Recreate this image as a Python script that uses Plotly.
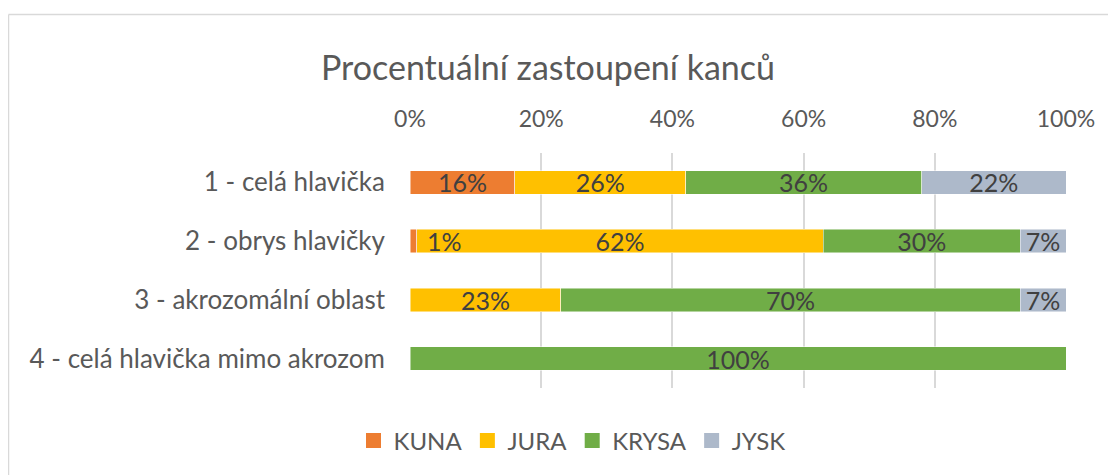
import plotly.graph_objects as go

categories = ["1 - celá hlavička", "2 - obrys hlavičky", "3 - akrozomální oblast", "4 - celá hlavička mimo akrozom"]
series_names = ["KUNA", "JURA", "KRYSA", "JYSK"]
kuna = [16, 1, 0, 0]
jura = [26, 62, 23, 0]
krysa = [36, 30, 70, 100]
jysk = [22, 7, 7, 0]
colors = ["#ED7D31", "#FFC000", "#70AD47", "#ADB9CA"]
tick_vals = [0, 20, 40, 60, 80, 100]
tick_text = ["0%", "20%", "40%", "60%", "80%", "100%"]

FONT = "Lato"
OFF = 8  # page body margin
W, H = 1116 - OFF, 475 - OFF
ML, MR, MT, MB = 410 - OFF, 50, 153 - OFF, 87
pw = W - ML - MR
ph = H - MT - MB

fig = go.Figure()
for name, vals, col in zip(series_names, [kuna, jura, krysa, jysk], colors):
    texts = [f"{v}%" if v >= 5 else "" for v in vals]
    fig.add_trace(go.Bar(
        y=categories, x=vals, name=name, orientation="h", showlegend=False,
        marker=dict(color=col, line=dict(color="rgba(255,255,255,0.6)", width=0.8)),
        text=texts, textposition="inside", insidetextanchor="middle",
        constraintext="none", textangle=0,
        textfont=dict(family=FONT, size=25, color="#404040"),
        hoverinfo="x+y+name",
    ))

# legend entries with larger square swatches
for name, col in zip(series_names, colors):
    fig.add_trace(go.Scatter(
        x=[None], y=[None], mode="markers", name=name,
        marker=dict(symbol="square", size=15, color=col),
        showlegend=True, hoverinfo="skip",
    ))

# label for the small KUNA segment, placed just right of it
for cat, v in zip(categories, kuna):
    if 0 < v < 5:
        fig.add_annotation(x=v, y=cat, xref="x", yref="y", text=f"{v}%",
                           showarrow=False, xanchor="left", xshift=8,
                           font=dict(family=FONT, size=25, color="#404040"))

def px_x(px):
    return (px - OFF - ML) / pw

def px_y(py):
    return (H - MB - (py - OFF)) / ph

border = dict(color="#D9D9D9", width=1.5)
fig.add_shape(type="line", xref="paper", yref="paper", x0=px_x(8.5), x1=px_x(1130),
              y0=px_y(14.5), y1=px_y(14.5), line=border)
fig.add_shape(type="line", xref="paper", yref="paper", x0=px_x(8.5), x1=px_x(8.5),
              y0=px_y(14.5), y1=px_y(490), line=border)

fig.update_layout(
    width=W, height=H,
    barmode="stack", bargap=0.6,
    paper_bgcolor="white", plot_bgcolor="white",
    margin=dict(l=ML, r=MR, t=MT, b=MB),
    font=dict(family=FONT, color="#595959"),
    title=dict(text="Procentuální zastoupení kanců", xref="container",
               x=(548 - OFF) / W, xanchor="center", y=1 - (68 - OFF) / H, yanchor="middle",
               font=dict(family=FONT, size=34, color="#595959")),
    xaxis=dict(range=[0, 100], side="top", tickvals=tick_vals, ticktext=tick_text,
               showgrid=True, gridcolor="#D9D9D9", gridwidth=1.5, zeroline=False,
               showline=False, ticks="", ticklabelstandoff=20,
               tickfont=dict(family=FONT, size=23, color="#595959"), fixedrange=True),
    yaxis=dict(autorange="reversed", showgrid=False, zeroline=False, showline=False,
               ticks="", ticklabelstandoff=24,
               tickfont=dict(family=FONT, size=26, color="#595959")),
    legend=dict(orientation="h", xref="container", yref="container",
                x=(572 - OFF) / W, xanchor="center", y=1 - (441 - OFF) / H, yanchor="middle",
                font=dict(family=FONT, size=24, color="#595959"),
                traceorder="normal", itemwidth=30),
    showlegend=True,
)

fig.write_html("out.html")
